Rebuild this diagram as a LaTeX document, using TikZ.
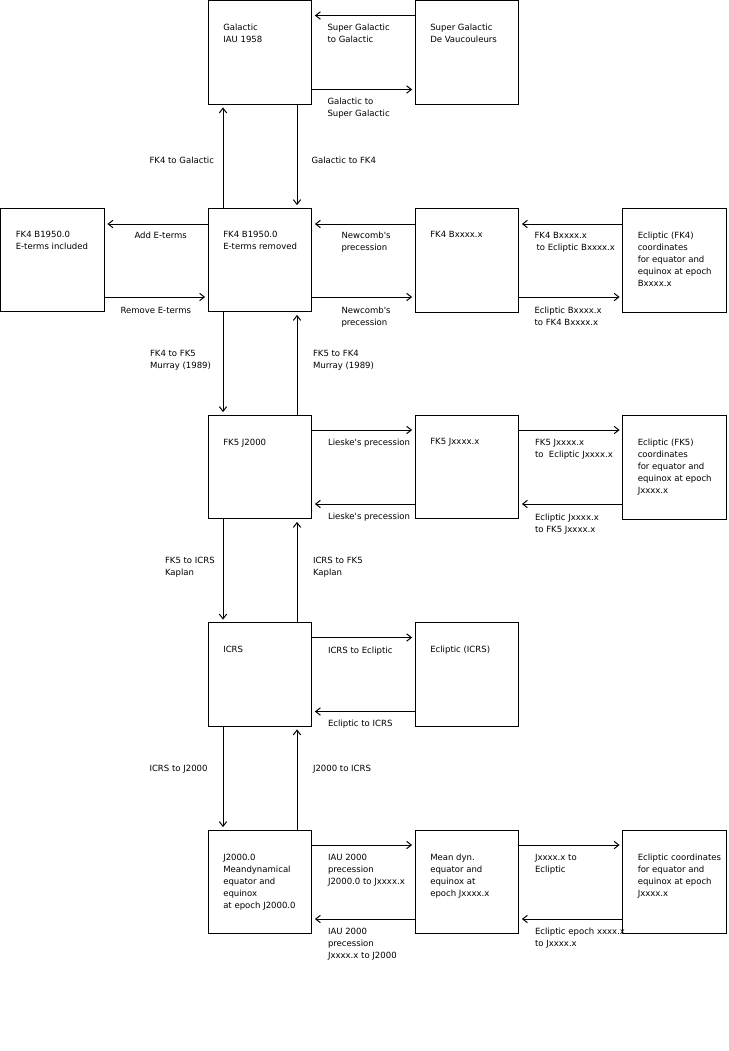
\documentclass[tikz,border=0pt]{standalone}
\usepackage{fontspec}
\setmainfont{DejaVu Sans}
\usetikzlibrary{arrows.meta,positioning,calc}

\tikzset{
  box/.style={draw,minimum width=77.6pt,minimum height=77.6pt,inner sep=0pt},
  txt/.style={anchor=north west,inner sep=0pt,align=left},
  arr/.style={->,shorten >=2pt}
}

\begin{document}
\begin{tikzpicture}[x=0.75pt,y=-0.75pt,>={Straight Barb[length=3.5pt,width=5.5pt]},line width=0.75pt,font=\fontsize{6.4pt}{9pt}\selectfont]
\useasboundingbox (0,0) rectangle (729,1051);
\node[box] (gal) at (260,52.5) {};
\node[box] (sgal) at (467,52.5) {};
\node[box] (fk4inc) at (52.5,260) {};
\node[box] (fk4) at (260,260) {};
\node[box] (fk4b) at (467,260.5) {};
\node[box] (eclfk4) at (674.5,260.5) {};
\node[box] (fk5) at (260,467) {};
\node[box] (fk5j) at (467,467) {};
\node[box] (eclfk5) at (674.5,467.5) {};
\node[box] (icrs) at (260,674.5) {};
\node[box] (eclicrs) at (467,674.5) {};
\node[box] (j2000) at (260,882) {};
\node[box] (dyn) at (467,882) {};
\node[box] (ecl) at (674.5,882) {};
\node[txt] (galt) at ($(gal.north west)+(15,23)$) {Galactic\\IAU 1958};
\node[txt] (sgalt) at ($(sgal.north west)+(15,23)$) {Super Galactic\\De Vaucouleurs};
\node[txt] (fk4inct) at ($(fk4inc.north west)+(15,23)$) {FK4 B1950.0\\E-terms included};
\node[txt] (fk4t) at ($(fk4.north west)+(15,23)$) {FK4 B1950.0\\E-terms removed};
\node[txt] (fk4bt) at ($(fk4b.north west)+(15,23)$) {FK4 Bxxxx.x};
\node[txt] (eclfk4t) at ($(eclfk4.north west)+(15,23)$) {Ecliptic (FK4)\\coordinates\\for equator and\\equinox at epoch\\Bxxxx.x};
\node[txt] (fk5t) at ($(fk5.north west)+(15,23.5)$) {FK5 J2000};
\node[txt] (fk5jt) at ($(fk5j.north west)+(15,23.5)$) {FK5 Jxxxx.x};
\node[txt] (eclfk5t) at ($(eclfk5.north west)+(15,23)$) {Ecliptic (FK5)\\coordinates\\for equator and\\equinox at epoch\\Jxxxx.x};
\node[txt] (icrst) at ($(icrs.north west)+(15,23.5)$) {ICRS};
\node[txt] (eclicrst) at ($(eclicrs.north west)+(15,23.5)$) {Ecliptic (ICRS)};
\node[txt] (j2000t) at ($(j2000.north west)+(15,23.5)$) {J2000.0\\Meandynamical\\equator and\\equinox\\at epoch J2000.0};
\node[txt] (dynt) at ($(dyn.north west)+(15,23.5)$) {Mean dyn.\\equator and\\equinox at\\epoch Jxxxx.x};
\node[txt] (eclt) at ($(ecl.north west)+(15,23.5)$) {Ecliptic coordinates\\for equator and\\equinox at epoch\\Jxxxx.x};
\draw[arr] ($(sgal.west)+(0,-37)$) -- ($(gal.east)+(0,-37)$);
\draw[arr] ($(gal.east)+(0,37)$) -- ($(sgal.west)+(0,37)$);
\draw[arr] ($(fk4.north)+(-37,0)$) -- ($(gal.south)+(-37,0)$);
\draw[arr] ($(gal.south)+(37,0)$) -- ($(fk4.north)+(37,0)$);
\draw[arr] ($(fk4.west)+(0,-36)$) -- ($(fk4inc.east)+(0,-36)$);
\draw[arr] ($(fk4inc.east)+(0,37)$) -- ($(fk4.west)+(0,37)$);
\draw[arr] ($(fk4b.west)+(0,-36.5)$) -- ($(fk4.east)+(0,-36)$);
\draw[arr] ($(fk4.east)+(0,37)$) -- ($(fk4b.west)+(0,36.5)$);
\draw[arr] ($(eclfk4.west)+(0,-36.5)$) -- ($(fk4b.east)+(0,-36.5)$);
\draw[arr] ($(fk4b.east)+(0,36.5)$) -- ($(eclfk4.west)+(0,36.5)$);
\draw[arr] ($(fk4.south)+(-37,0)$) -- ($(fk5.north)+(-37,0)$);
\draw[arr] ($(fk5.north)+(37,0)$) -- ($(fk4.south)+(37,0)$);
\draw[arr] ($(fk5.east)+(0,-37)$) -- ($(fk5j.west)+(0,-37)$);
\draw[arr] ($(fk5j.west)+(0,37)$) -- ($(fk5.east)+(0,37)$);
\draw[arr] ($(fk5j.east)+(0,-37)$) -- ($(eclfk5.west)+(0,-37.5)$);
\draw[arr] ($(eclfk5.west)+(0,36.5)$) -- ($(fk5j.east)+(0,37)$);
\draw[arr] ($(fk5.south)+(-37,0)$) -- ($(icrs.north)+(-37,0)$);
\draw[arr] ($(icrs.north)+(37,0)$) -- ($(fk5.south)+(37,0)$);
\draw[arr] ($(icrs.east)+(0,-37)$) -- ($(eclicrs.west)+(0,-37)$);
\draw[arr] ($(eclicrs.west)+(0,37)$) -- ($(icrs.east)+(0,37)$);
\draw[arr] ($(icrs.south)+(-37,0)$) -- ($(j2000.north)+(-37,0)$);
\draw[arr] ($(j2000.north)+(37,0)$) -- ($(icrs.south)+(37,0)$);
\draw[arr] ($(j2000.east)+(0,-37)$) -- ($(dyn.west)+(0,-37)$);
\draw[arr] ($(dyn.west)+(0,37)$) -- ($(j2000.east)+(0,37)$);
\draw[arr] ($(dyn.east)+(0,-37)$) -- ($(ecl.west)+(0,-37)$);
\draw[arr] ($(ecl.west)+(0,37)$) -- ($(dyn.east)+(0,37)$);
\node[txt] (l1) at (327,23.5) {Super Galactic\\to Galactic};
\node[txt] (l2) at (327,97.5) {Galactic to\\Super Galactic};
\node[txt] (l3) at (149,157) {FK4 to Galactic};
\node[txt] (l4) at (311,157) {Galactic to FK4};
\node[txt] (l5) at (134,231.5) {Add E-terms};
\node[txt] (l6) at (120,306.5) {Remove E-terms};
\node[txt] (l7) at (341,232) {Newcomb\textquotesingle s\\precession};
\node[txt] (l8) at (341,306.5) {Newcomb\textquotesingle s\\precession};
\node[txt] (l9) at (534,232) {FK4 Bxxxx.x\\\hspace*{1.5pt}to Ecliptic Bxxxx.x};
\node[txt] (l10) at (534,306.5) {Ecliptic Bxxxx.x\\to FK4 Bxxxx.x};
\node[txt] (l11) at (149.5,350) {FK4 to FK5\\Murray (1989)};
\node[txt] (l12) at (312.5,350) {FK5 to FK4\\Murray (1989)};
\node[txt] (l13) at (327.5,439) {Lieske\textquotesingle s precession};
\node[txt] (l14) at (327.5,513) {Lieske\textquotesingle s precession};
\node[txt] (l15) at (534.5,438.5) {FK5 Jxxxx.x\\to~ Ecliptic Jxxxx.x};
\node[txt] (l16) at (534.5,513.5) {Ecliptic Jxxxx.x\\to FK5 Jxxxx.x};
\node[txt] (l17) at (164.5,556.5) {FK5 to ICRS\\Kaplan};
\node[txt] (l18) at (312.5,556.5) {ICRS to FK5\\Kaplan};
\node[txt] (l19) at (327.5,646.5) {ICRS to Ecliptic};
\node[txt] (l20) at (327.5,720) {Ecliptic to ICRS};
\node[txt] (l21) at (149,765) {ICRS to J2000};
\node[txt] (l22) at (312.5,765) {J2000 to ICRS};
\node[txt] (l23) at (327.5,853.5) {IAU 2000\\precession\\J2000.0 to Jxxxx.x};
\node[txt] (l24) at (327.5,928) {IAU 2000\\precession\\Jxxxx.x to J2000};
\node[txt] (l25) at (534.5,854) {Jxxxx.x to\\Ecliptic};
\node[txt] (l26) at (534.5,928) {Ecliptic epoch xxxx.x\\to Jxxxx.x};
\end{tikzpicture}
\end{document}
